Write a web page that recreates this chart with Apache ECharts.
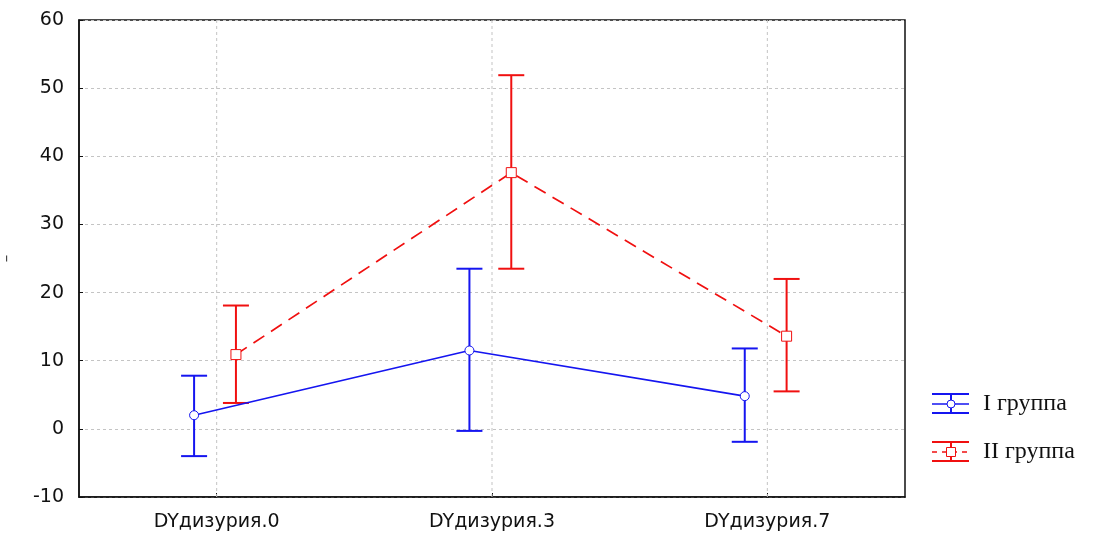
<!DOCTYPE html>
<html>
<head>
<meta charset="utf-8">
<script src="https://cdn.jsdelivr.net/npm/echarts@6/dist/echarts.min.js"></script>
<style>
  html, body { margin: 0; padding: 0; background: #fff; }
  #main { width: 1098px; height: 535px; }
</style>
</head>
<body>
<div id="main"></div>
<script>
  // данные
  var categories = ['DYдизурия.0', 'DYдизурия.3', 'DYдизурия.7'];
  var yTicks = [-10, 0, 10, 20, 30, 40, 50, 60];
  var groupNames = ['I группа', 'II группа'];
  var mean1 = [2.0, 11.5, 4.8];
  var low1 = [-4.0, -0.3, -1.9];
  var high1 = [7.8, 23.5, 11.8];
  var mean2 = [10.9, 37.6, 13.6];
  var low2 = [3.8, 23.5, 5.5];
  var high2 = [18.1, 51.9, 22.0];

  var blue = '#1515f0';
  var red = '#f01010';
  var off1 = -0.082, off2 = 0.07; // смещение групп от центра категории

  function pts(mean, off) {
    return mean.map(function (v, i) { return [i + off, v]; });
  }
  function bars(lo, hi, off) {
    return lo.map(function (v, i) { return [i + off, v, hi[i]]; });
  }
  function errRender(color) {
    return function (params, api) {
      var x = api.value(0);
      var a = api.coord([x, api.value(1)]);
      var b = api.coord([x, api.value(2)]);
      var w = 13;
      var st = { stroke: color, lineWidth: 2 };
      return {
        type: 'group',
        children: [
          { type: 'line', shape: { x1: a[0], y1: a[1], x2: b[0], y2: b[1] }, style: st },
          { type: 'line', shape: { x1: a[0] - w, y1: a[1], x2: a[0] + w, y2: a[1] }, style: st },
          { type: 'line', shape: { x1: b[0] - w, y1: b[1], x2: b[0] + w, y2: b[1] }, style: st }
        ]
      };
    };
  }
  // вертикальная сетка по центрам категорий
  function gridRender(params, api) {
    var a = api.coord([api.value(0), yTicks[0]]);
    var b = api.coord([api.value(0), yTicks[yTicks.length - 1]]);
    return {
      type: 'line',
      shape: { x1: a[0], y1: a[1], x2: b[0], y2: b[1] },
      style: { stroke: '#c4c4c4', lineWidth: 1, lineDash: [3, 3] }
    };
  }

  var myChart = echarts.init(document.getElementById('main'));
  var font = '"DejaVu Sans", Arial, sans-serif';

  // легенда
  function legendItem(y, color, dashed, symbol, text) {
    var st = { stroke: color, lineWidth: 2 };
    var mid = dashed ? { stroke: color, lineWidth: 1.5, lineDash: [5, 5] } : { stroke: color, lineWidth: 1.5 };
    var mark = symbol === 'circle'
      ? { type: 'circle', shape: { cx: 951, cy: y, r: 4 }, style: { fill: '#fff', stroke: color, lineWidth: 1 } }
      : { type: 'rect', shape: { x: 946.5, y: y - 4.5, width: 9, height: 9 }, style: { fill: '#fff', stroke: color, lineWidth: 1 } };
    return [
      { type: 'line', shape: { x1: 932, y1: y - 10, x2: 969, y2: y - 10 }, style: st },
      { type: 'line', shape: { x1: 932, y1: y + 9, x2: 969, y2: y + 9 }, style: st },
      { type: 'line', shape: { x1: 932, y1: y, x2: 969, y2: y }, style: mid },
      { type: 'line', shape: { x1: 951, y1: y - 10, x2: 951, y2: y + 9 }, style: st },
      mark,
      { type: 'text', x: 983, y: y, style: { text: text, fill: '#111', font: '24px "Liberation Serif", "Times New Roman", serif', verticalAlign: 'middle' } }
    ];
  }

  var option = {
    backgroundColor: '#fff',
    animation: false,
    grid: {
      left: 79, right: 193, top: 20, bottom: 38,
      outerBoundsMode: 'none', containLabel: false,
      show: true, borderColor: '#111', borderWidth: 1.5
    },
    xAxis: {
      type: 'value',
      min: -0.5,
      max: 2.5,
      axisLine: { show: true, onZero: false, lineStyle: { color: '#111', width: 1.5 } },
      axisTick: { show: true, inside: true, length: 4, customValues: [0, 1, 2], lineStyle: { color: '#111' } },
      axisLabel: {
        customValues: [0, 1, 2],
        formatter: function (v) { return categories[Math.round(v)]; },
        color: '#111', fontFamily: font, fontSize: 19, margin: 16
      },
      splitLine: { show: false }
    },
    yAxis: {
      type: 'value',
      min: yTicks[0],
      max: yTicks[yTicks.length - 1],
      interval: 10,
      name: '–',
      nameLocation: 'middle',
      nameGap: 64,
      nameTextStyle: { color: '#444', fontSize: 15, fontFamily: font },
      axisLine: { show: true, onZero: false, lineStyle: { color: '#111', width: 1.5 } },
      axisTick: { show: true, inside: true, length: 4, lineStyle: { color: '#111' } },
      axisLabel: { color: '#111', fontFamily: font, fontSize: 19, margin: 15 },
      splitLine: { show: true, lineStyle: { color: '#c4c4c4', type: [3, 3], width: 1 } }
    },
    graphic: legendItem(404, blue, false, 'circle', groupNames[0])
      .concat(legendItem(452, red, true, 'rect', groupNames[1])),
    series: [
      {
        type: 'custom',
        silent: true,
        renderItem: gridRender,
        data: categories.map(function (c, i) { return [i]; }),
        z: 1
      },
      {
        name: groupNames[0] + ' err',
        type: 'custom',
        renderItem: errRender(blue),
        data: bars(low1, high1, off1),
        z: 2
      },
      {
        name: groupNames[1] + ' err',
        type: 'custom',
        renderItem: errRender(red),
        data: bars(low2, high2, off2),
        z: 2
      },
      {
        name: groupNames[0],
        type: 'line',
        data: pts(mean1, off1),
        symbol: 'circle',
        symbolSize: 9,
        lineStyle: { color: blue, width: 1.7 },
        itemStyle: { color: '#fff', borderColor: blue, borderWidth: 1 },
        z: 5
      },
      {
        name: groupNames[1],
        type: 'line',
        data: pts(mean2, off2),
        symbol: 'rect',
        symbolSize: 10,
        lineStyle: { color: red, width: 1.7, type: [13, 8] },
        itemStyle: { color: '#fff', borderColor: red, borderWidth: 1 },
        z: 5
      }
    ]
  };
  myChart.setOption(option);
  window.onresize = function () { myChart.resize(); };
</script>
</body>
</html>
